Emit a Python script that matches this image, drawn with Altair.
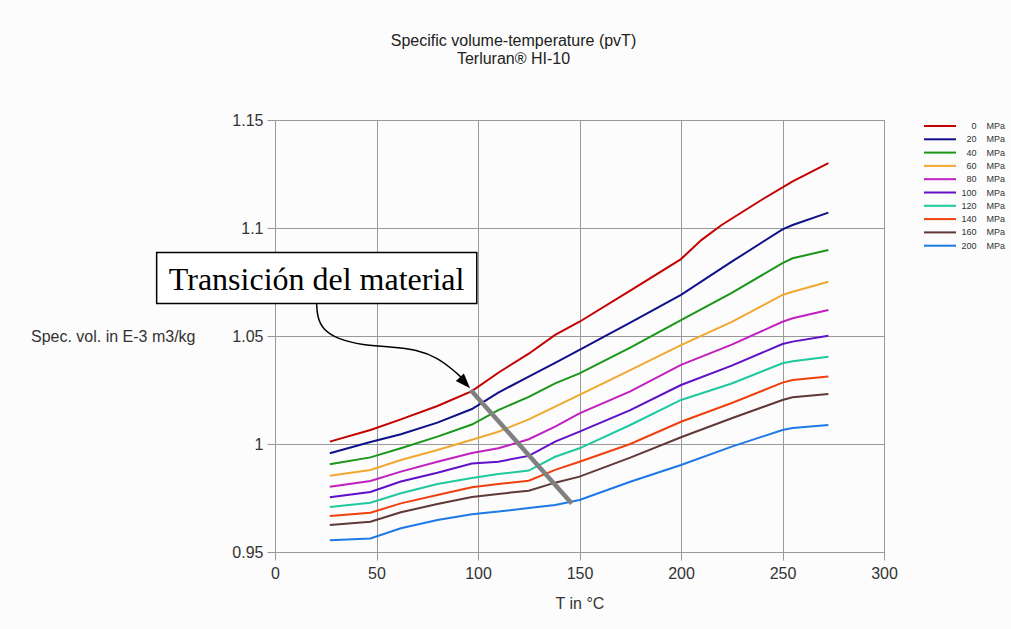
import altair as alt
import pandas as pd

# Temperatures (°C) at which the isobars are tabulated
T_GRID = [27, 47, 62, 80, 97, 110, 125, 138, 150, 175, 200, 225, 250, 255, 272.6]
# the 0 MPa isobar carries a few extra points around its step near 220 °C
T_0MPA = [27, 47, 62, 80, 97, 110, 125, 138, 150, 175, 200, 210, 220, 240, 255, 272.6]

# Specific volume (E-3 m3/kg) per pressure level
V_0MPA = [1.0011, 1.0065, 1.0114, 1.0176, 1.0245, 1.0330, 1.0418, 1.0505, 1.0566, 1.0710,
          1.0856, 1.0944, 1.1014, 1.1132, 1.1216, 1.1300]
V_20MPA = [0.9957, 1.0009, 1.0045, 1.0099, 1.0162, 1.0238, 1.0312, 1.0376, 1.0436, 1.0562,
           1.0690, 1.0844, 1.0994, 1.1014, 1.1071]
V_40MPA = [0.9906, 0.9938, 0.9980, 1.0034, 1.0090, 1.0157, 1.0218, 1.0281, 1.0327, 1.0446,
           1.0574, 1.0700, 1.0837, 1.0860, 1.0898]
V_60MPA = [0.9853, 0.9880, 0.9926, 0.9972, 1.0020, 1.0057, 1.0114, 1.0173, 1.0227, 1.0342,
           1.0458, 1.0565, 1.0690, 1.0705, 1.0751]
V_80MPA = [0.9802, 0.9829, 0.9872, 0.9918, 0.9958, 0.9980, 1.0022, 1.0080, 1.0142, 1.0244,
           1.0366, 1.0460, 1.0566, 1.0582, 1.0620]
V_100MPA = [0.9753, 0.9778, 0.9826, 0.9867, 0.9910, 0.9918, 0.9945, 1.0011, 1.0057, 1.0157,
            1.0273, 1.0363, 1.0463, 1.0474, 1.0501]
V_120MPA = [0.9708, 0.9728, 0.9772, 0.9815, 0.9843, 0.9861, 0.9877, 0.9941, 0.9980, 1.0088,
            1.0204, 1.0280, 1.0374, 1.0383, 1.0404]
V_140MPA = [0.9667, 0.9682, 0.9725, 0.9764, 0.9800, 0.9815, 0.9830, 0.9880, 0.9918, 1.0000,
            1.0103, 1.0190, 1.0284, 1.0296, 1.0312]
V_160MPA = [0.9625, 0.9640, 0.9684, 0.9722, 0.9755, 0.9769, 0.9784, 0.9821, 0.9849, 0.9937,
            1.0031, 1.0119, 1.0204, 1.0216, 1.0231]
V_200MPA = [0.9554, 0.9563, 0.9610, 0.9648, 0.9675, 0.9687, 0.9704, 0.9718, 0.9741, 0.9825,
            0.9903, 0.9988, 1.0065, 1.0074, 1.0088]

PRESSURES = [0, 20, 40, 60, 80, 100, 120, 140, 160, 200]
COLORS = ["#c40000", "#10108a", "#1a961a", "#f0a830", "#c020c0",
          "#6010c8", "#20c8a0", "#f04010", "#603838", "#1e78e6"]

# Glass-transition marker across the isobars, and the callout
TRANSITION_T = [96.4, 146.2]
TRANSITION_V = [1.0250, 0.9725]
ARROW_T = [20.5, 20.8, 23.5, 31.0, 43.3, 56.7, 70.0, 80.3, 87.7, 92.1]
ARROW_V = [1.0651, 1.0590, 1.0530, 1.0485, 1.0458, 1.0450, 1.0437, 1.0398, 1.0343, 1.0306]
ARROW_TIP = (96.1, 1.0258)
BOX_T = [-58.3, 99.4]
BOX_V = [1.0651, 1.0886]
CALLOUT = "Transición del material"
CALLOUT_AT = (20.5, 1.0713)

series = [
    (0, T_0MPA, V_0MPA), (20, T_GRID, V_20MPA), (40, T_GRID, V_40MPA),
    (60, T_GRID, V_60MPA), (80, T_GRID, V_80MPA), (100, T_GRID, V_100MPA),
    (120, T_GRID, V_120MPA), (140, T_GRID, V_140MPA), (160, T_GRID, V_160MPA),
    (200, T_GRID, V_200MPA),
]
curves = pd.DataFrame(
    [{"T": t, "v": v, "p": p} for p, ts, vs in series for t, v in zip(ts, vs)]
)

FONT = "Liberation Sans"
x_scale = alt.Scale(domain=[0, 300], nice=False)
y_scale = alt.Scale(domain=[0.95, 1.15], nice=False, zero=False)
x_axis = alt.Axis(values=[0, 50, 100, 150, 200, 250, 300], title="T in °C",
                  titleY=51, titleBaseline="middle", labelPadding=5, labelFlush=False)
y_axis = alt.Axis(values=[0.95, 1.0, 1.05, 1.1, 1.15], format="~g",
                  title="Spec. vol. in E-3 m3/kg", titleAngle=0, titleAlign="right",
                  titleBaseline="middle", titleX=-80, titleY=216, labelPadding=4,
                  labelFlush=False)

X = alt.X("T:Q", scale=x_scale, axis=x_axis)
Y = alt.Y("v:Q", scale=y_scale, axis=y_axis)

# legend labels are right-aligned so the pressure values line up before the unit
NBSP = "\u00a0"
label_expr = f"datum.label + '{NBSP * 4}MPa'"

lines = alt.Chart(curves).mark_line(strokeWidth=2).encode(
    x=X,
    y=Y,
    color=alt.Color(
        "p:N",
        sort=PRESSURES,
        scale=alt.Scale(domain=PRESSURES, range=COLORS),
        legend=alt.Legend(
            title=None, orient="none", legendX=659, legendY=0,
            symbolType="M-3.2,0L3.2,0", symbolSize=100, symbolStrokeWidth=2,
            labelFont=FONT, labelFontSize=9, labelColor="#333",
            labelAlign="right", labelOffset=59, rowPadding=2.3, padding=0,
            labelExpr=label_expr,
        ),
    ),
)

transition = alt.Chart(
    pd.DataFrame({"T": TRANSITION_T, "v": TRANSITION_V})
).mark_line(color="#808080", strokeWidth=4.5).encode(x=X, y=Y)

arrow = alt.Chart(
    pd.DataFrame({"T": ARROW_T, "v": ARROW_V})
).mark_line(color="black", strokeWidth=1.5, interpolate="basis").encode(x=X, y=Y)

arrow_head = alt.Chart(
    pd.DataFrame({"T": [ARROW_TIP[0]], "v": [ARROW_TIP[1]]})
).mark_point(shape="M0,0L-0.55,-1.5L0.55,-1.5Z", filled=True, color="black",
             size=400, angle=317, opacity=1).encode(x=X, y=Y)

box = alt.Chart(
    pd.DataFrame({"T": [BOX_T[0]], "T2": [BOX_T[1]], "v": [BOX_V[0]], "v2": [BOX_V[1]]})
).mark_rect(fill="white", stroke="black", strokeWidth=1.5).encode(
    x=X, x2="T2:Q", y=Y, y2="v2:Q"
)

callout = alt.Chart(
    pd.DataFrame({"T": [CALLOUT_AT[0]], "v": [CALLOUT_AT[1]], "label": [CALLOUT]})
).mark_text(font="Liberation Serif", fontSize=32, color="black",
            align="center", baseline="alphabetic").encode(x=X, y=Y, text="label:N")

chart = alt.layer(lines, transition, box, callout, arrow, arrow_head).properties(
    width=609,
    height=432,
    autosize=alt.AutoSizeParams(type="none"),
    padding={"left": 275, "top": 120, "right": 127, "bottom": 77},
    background="#fbfcfb",
    title=alt.TitleParams(
        text=["Specific volume-temperature (pvT)", "Terluran® HI-10"],
        font=FONT, fontSize=16, fontWeight="normal", color="#222",
        anchor="middle", dx=-66, offset=45, lineHeight=18,
    ),
).configure_axis(
    labelFont=FONT, labelFontSize=16, labelColor="#333",
    titleFont=FONT, titleFontSize=16, titleFontWeight="normal", titleColor="#333",
    tickColor="#999", tickSize=8, domainColor="#999",
    gridColor="#999", gridWidth=1, gridOpacity=1,
).configure_view(stroke="#999")

chart.save("out.html", embed_options={"renderer": "svg", "actions": False})
